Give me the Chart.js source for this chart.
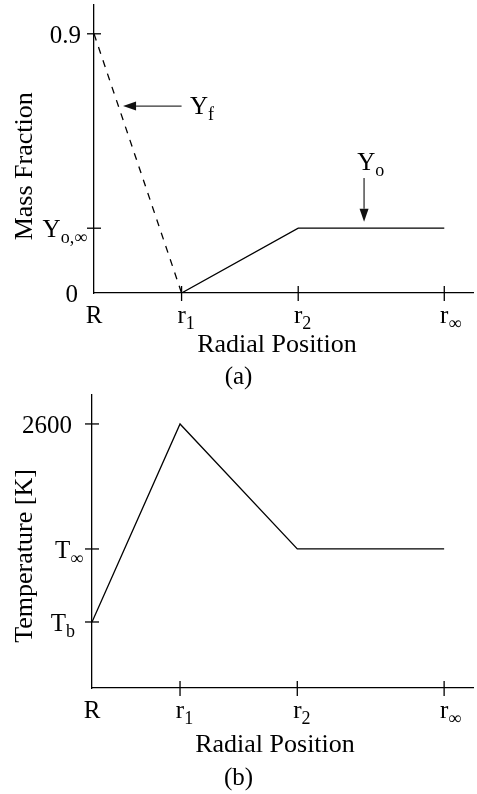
<!DOCTYPE html>
<html>
<head>
<meta charset="utf-8">
<script src="https://cdn.jsdelivr.net/npm/chart.js@4.4.1/dist/chart.umd.min.js"></script>
<style>
    html, body { margin: 0; padding: 0; background: #fff; }
    .panel { position: relative; width: 477px; }
    #panelA { height: 390px; }
    #panelB { height: 404px; }
</style>
</head>
<body>
<div class="panel" id="panelA"><canvas id="massChart"></canvas></div>
<div class="panel" id="panelB"><canvas id="tempChart"></canvas></div>
<script>
// Radial positions R, r1, r2, r_inf (normalised so R = 0, r_inf = 1).
const radialPos = [0, 0.25, 0.583, 1.0];
const radialBase = ["R", "r", "r", "r"];
const radialSub = ["", "1", "2", "\u221E"];

// (a) mass fractions
const fuelFrac = [0.9, 0, null, null];
const oxFrac = [null, 0, 0.225, 0.225];
const massTicks = [0, 0.225, 0.9];
const massBase = ["0", "Y", "0.9"];
const massSub = ["", "o,\u221E", ""];

// (b) temperature
const temperature = [650, 2600, 1369, 1369];
const tempTicks = [650, 1369, 2600];
const tempBase = ["T", "T", "2600"];
const tempSub = ["b", "\u221E", ""];

const INK = "#000";
const SERIF = "'Liberation Serif', 'DejaVu Serif', serif";

function pts(xs, ys) {
    return xs.map((x, i) => (ys[i] === null ? null : { x: x, y: ys[i] }))
        .filter((p) => p !== null);
}

// text with an optional subscript; align is "center" (base centred), "left" or "right"
function subText(ctx, x, y, base, sub, align, size) {
    const subSize = Math.round(size * 0.72);
    ctx.font = `${size}px ${SERIF}`;
    const wb = ctx.measureText(base).width;
    ctx.font = `${subSize}px ${SERIF}`;
    const ws = sub ? ctx.measureText(sub).width : 0;
    let x0 = x - wb / 2;
    if (align === "right") x0 = x - wb - ws;
    if (align === "left") x0 = x;
    ctx.textAlign = "left";
    ctx.textBaseline = "alphabetic";
    ctx.font = `${size}px ${SERIF}`;
    ctx.fillText(base, x0, y);
    if (sub) {
        ctx.font = `${subSize}px ${SERIF}`;
        ctx.fillText(sub, x0 + wb, y + 6);
    }
}

function arrow(ctx, x1, y1, x2, y2) {
    const ang = Math.atan2(y2 - y1, x2 - x1);
    const head = 13, half = 4.5;
    ctx.strokeStyle = "#333";
    ctx.fillStyle = "#111";
    ctx.lineWidth = 1.3;
    ctx.beginPath();
    ctx.moveTo(x1, y1);
    ctx.lineTo(x2 - Math.cos(ang) * head, y2 - Math.sin(ang) * head);
    ctx.stroke();
    ctx.beginPath();
    ctx.moveTo(x2, y2);
    ctx.lineTo(x2 - Math.cos(ang) * head - Math.sin(ang) * half,
               y2 - Math.sin(ang) * head + Math.cos(ang) * half);
    ctx.lineTo(x2 - Math.cos(ang) * head + Math.sin(ang) * half,
               y2 - Math.sin(ang) * head - Math.cos(ang) * half);
    ctx.closePath();
    ctx.fill();
}

// Draws the crossing tick marks, sub-scripted tick labels, axis titles,
// caption and arrow notes. Everything is placed through the chart's scales.
const figureText = {
    id: "figureText",
    afterDraw(chart, args, opts) {
        const { ctx, chartArea: area } = chart;
        const xs = chart.scales.x, ys = chart.scales.y;
        ctx.save();
        ctx.strokeStyle = INK;
        ctx.fillStyle = INK;
        ctx.lineWidth = 1.3;
        radialPos.forEach((v, i) => {
            const px = xs.getPixelForValue(v);
            if (i > 0) {
                ctx.beginPath();
                ctx.moveTo(px, area.bottom - 7);
                ctx.lineTo(px, area.bottom + 8);
                ctx.stroke();
            }
            subText(ctx, px, area.bottom + 30, radialBase[i], radialSub[i], "center", 25);
        });
        opts.yTicks.forEach((v, i) => {
            const py = ys.getPixelForValue(v);
            if (v !== ys.min) {
                ctx.beginPath();
                ctx.moveTo(area.left - 7, py);
                ctx.lineTo(area.left + 7, py);
                ctx.stroke();
            }
            subText(ctx, area.left - opts.yGap[i], py + 9, opts.yBase[i], opts.ySub[i], "right", 25);
        });
        ctx.font = `26px ${SERIF}`;
        ctx.textAlign = "center";
        ctx.textBaseline = "middle";
        ctx.fillText("Radial Position", area.left + opts.xTitleDx, area.bottom + opts.xTitleDy);
        ctx.font = `25px ${SERIF}`;
        ctx.fillText(opts.caption, chart.width / 2, area.bottom + opts.captionDy);
        ctx.save();
        ctx.font = `26px ${SERIF}`;
        ctx.translate(25, ys.getPixelForValue(opts.yTitleAt));
        ctx.rotate(-Math.PI / 2);
        ctx.fillText(opts.yTitle, 0, 0);
        ctx.restore();
        (opts.notes || []).forEach((n) => {
            const ax = xs.getPixelForValue(n.from[0]), ay = ys.getPixelForValue(n.from[1]);
            const bx = xs.getPixelForValue(n.to[0]), by = ys.getPixelForValue(n.to[1]);
            arrow(ctx, ax, ay, bx, by);
            ctx.fillStyle = INK;
            subText(ctx, xs.getPixelForValue(n.label[0]), ys.getPixelForValue(n.label[1]),
                    n.base, n.sub, n.align, 25);
        });
        ctx.restore();
    },
};

function lineSet(data, dashed) {
    return {
        data: data,
        borderColor: INK,
        borderWidth: 1.3,
        borderDash: dashed ? [7, 7] : [],
        pointRadius: 0,
        tension: 0,
        showLine: true,
    };
}

function axes(yMin, yMax, yWidth, xHeight) {
    return {
        x: {
            type: "linear", min: 0, max: 1.082,
            grid: { display: false },
            ticks: { display: false },
            border: { display: true, color: INK, width: 1.3 },
            afterFit: (s) => { s.height = xHeight; },
        },
        y: {
            type: "linear", min: yMin, max: yMax,
            grid: { display: false },
            ticks: { display: false },
            border: { display: true, color: INK, width: 1.3 },
            afterFit: (s) => { s.width = yWidth; },
        },
    };
}

new Chart(document.getElementById("massChart"), {
    type: "scatter",
    data: {
        datasets: [
            lineSet(pts(radialPos, fuelFrac), true),
            lineSet(pts(radialPos, oxFrac), false),
        ],
    },
    options: {
        responsive: true,
        maintainAspectRatio: false,
        animation: false,
        layout: { padding: { top: 5, right: 4, left: 0, bottom: 0 } },
        scales: axes(0, 1.0, 94, 97),
        plugins: {
            legend: { display: false },
            tooltip: { enabled: false },
            figureText: {
                yTicks: massTicks, yBase: massBase, ySub: massSub, yGap: [16, 7, 13],
                yTitle: "Mass Fraction", yTitleAt: 0.44,
                xTitleDx: 183, xTitleDy: 52, caption: "(a)", captionDy: 84,
                notes: [
                    { from: [0.25, 0.649], to: [0.083, 0.649], label: [0.274, 0.62],
                      base: "Y", sub: "f", align: "left" },
                    { from: [0.771, 0.399], to: [0.771, 0.247], label: [0.777, 0.427],
                      base: "Y", sub: "o", align: "center" },
                ],
            },
        },
    },
    plugins: [figureText],
});

new Chart(document.getElementById("tempChart"), {
    type: "scatter",
    data: {
        datasets: [lineSet(pts(radialPos, temperature), false)],
    },
    options: {
        responsive: true,
        maintainAspectRatio: false,
        animation: false,
        layout: { padding: { top: 5, right: 4, left: 0, bottom: 0 } },
        scales: axes(0, 2885, 92, 106),
        plugins: {
            legend: { display: false },
            tooltip: { enabled: false },
            figureText: {
                yTicks: tempTicks, yBase: tempBase, ySub: tempSub, yGap: [17, 9, 20],
                yTitle: "Temperature [K]", yTitleAt: 1300,
                xTitleDx: 183, xTitleDy: 57, caption: "(b)", captionDy: 90,
            },
        },
    },
    plugins: [figureText],
});
</script>
</body>
</html>
